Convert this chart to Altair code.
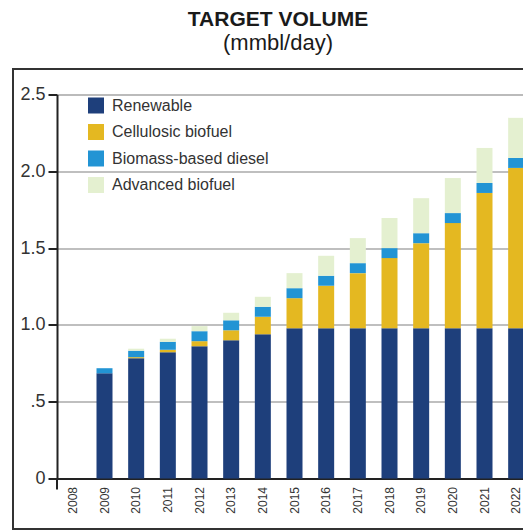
import altair as alt
import pandas as pd

years = [str(y) for y in range(2008, 2023)]
series = ["Renewable", "Cellulosic biofuel", "Biomass-based diesel", "Advanced biofuel"]
colors = ["#1e3f7b", "#e4b821", "#2294d4", "#e4f0d0"]

# mmbl/day
renewable = [0, 0.685, 0.783, 0.822, 0.861, 0.900, 0.939, 0.978, 0.978, 0.978, 0.978, 0.978, 0.978, 0.978, 0.978]
cellulosic = [0, 0, 0.007, 0.016, 0.033, 0.065, 0.114, 0.196, 0.277, 0.359, 0.457, 0.554, 0.685, 0.881, 1.044]
biomass = [0, 0.033, 0.042, 0.052, 0.065, 0.065, 0.065, 0.065, 0.065, 0.065, 0.065, 0.065, 0.065, 0.065, 0.065]
advanced = [0, 0, 0.013, 0.020, 0.033, 0.049, 0.065, 0.098, 0.130, 0.163, 0.196, 0.228, 0.228, 0.228, 0.261]

title_text = "TARGET VOLUME"
subtitle_text = "(mmbl/day)"

rows = []
for i, yr in enumerate(years):
    for k, (name, vals) in enumerate(zip(series, [renewable, cellulosic, biomass, advanced])):
        rows.append({"year": yr, "series": name, "value": vals[i], "ord": k})
df = pd.DataFrame(rows)

FONT = "Liberation Sans"
W, H = 466, 384

bars = alt.Chart(df).mark_bar(size=16).encode(
    x=alt.X("year:N", sort=years,
            scale=alt.Scale(domain=years, range=[0, 475]),
            axis=alt.Axis(title=None, labelAngle=-90, labelFontSize=12, labelColor="#333",
                          labelPadding=8, ticks=False, domainColor="#222", domainWidth=2,
                          labelFont=FONT)),
    y=alt.Y("value:Q", stack="zero",
            scale=alt.Scale(domain=[0, 2.5], nice=False),
            axis=alt.Axis(title=None, values=[0, 0.5, 1, 1.5, 2, 2.5],
                          labelExpr="datum.value == 0 ? '0' : (datum.value == 0.5 ? '.5' : format(datum.value, '.1f'))",
                          labelFontSize=18, labelColor="#333", labelPadding=3, labelFont=FONT,
                          tickSize=9, tickWidth=2, tickColor="#222",
                          domainColor="#222", domainWidth=2,
                          grid=True, gridColor="#aaaaaa", gridWidth=1.5)),
    color=alt.Color("series:N", scale=alt.Scale(domain=series, range=colors),
                    legend=alt.Legend(orient="none", legendX=31, legendY=3, title=None,
                                      symbolType="square", symbolSize=256, symbolStrokeWidth=0,
                                      symbolOpacity=1, labelFontSize=16, labelFont=FONT,
                                      labelColor="#333", rowPadding=10.5, labelOffset=8,
                                      padding=0)),
    order=alt.Order("ord:Q"),
)

frame = alt.Chart(alt.Data(values=[{}])).mark_rect(
    fillOpacity=0, stroke="#333", strokeWidth=2
).encode(x=alt.value(-44), x2=alt.value(600), y=alt.value(-25.5), y2=alt.value(434.5))

ext = alt.Chart(alt.Data(values=[{}])).mark_rule(color="#222", strokeWidth=2).encode(
    x=alt.value(0), y=alt.value(H), y2=alt.value(H + 11))

t1 = alt.Chart(pd.DataFrame({"t": [title_text]})).mark_text(
    font=FONT, fontSize=21, fontWeight="bold", align="center", baseline="alphabetic", color="#1a1a1a"
).encode(text="t:N", x=alt.value(221), y=alt.value(-68.5))

t2 = alt.Chart(pd.DataFrame({"t": [subtitle_text]})).mark_text(
    font=FONT, fontSize=22, align="center", baseline="alphabetic", color="#1a1a1a"
).encode(text="t:N", x=alt.value(221), y=alt.value(-44.5))

chart = alt.layer(bars, frame, ext, t1, t2).properties(
    width=W, height=H,
    autosize=alt.AutoSizeParams(type="none"),
    padding={"left": 49, "top": 86.5, "right": 0, "bottom": 51.5},
).configure_view(stroke=None).configure(font=FONT)

chart.save("out.html", embed_options={"renderer": "svg", "actions": False})
